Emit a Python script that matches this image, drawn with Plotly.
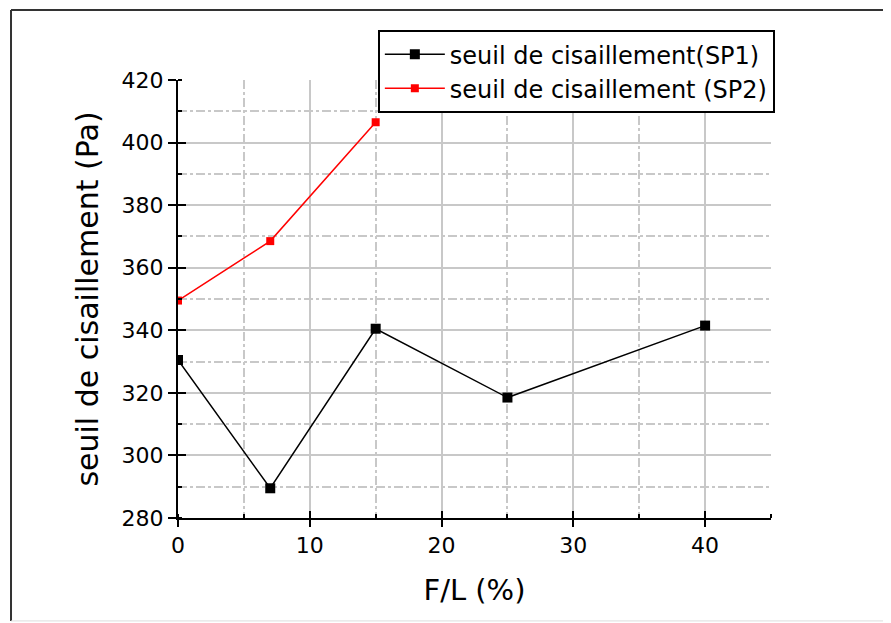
import plotly.graph_objects as go

# Data
sp1_x = [0, 7, 15, 25, 40]
sp1_y = [330.5, 289.5, 340.5, 318.5, 341.5]
sp2_x = [0, 7, 15]
sp2_y = [349.5, 368.5, 406.5]

x_ticks = [0, 10, 20, 30, 40]
y_ticks = [280, 300, 320, 340, 360, 380, 400, 420]

FONT = "DejaVu Sans, Arial, sans-serif"

fig = go.Figure()
fig.add_trace(go.Scatter(
    x=sp1_x, y=sp1_y, mode="lines+markers", name="seuil de cisaillement(SP1)",
    line=dict(color="black", width=1.5),
    marker=dict(symbol="square", size=10, color="black"),
))
fig.add_trace(go.Scatter(
    x=sp2_x, y=sp2_y, mode="lines+markers", name="seuil de cisaillement (SP2)",
    line=dict(color="red", width=1.5),
    marker=dict(symbol="square", size=8, color="red"),
))

common_grid = dict(showgrid=True, gridcolor="#c8c8c8", gridwidth=1.5, zeroline=False)

fig.update_layout(
    width=891, height=623,
    margin=dict(l=170, r=128, t=72, b=113),
    paper_bgcolor="white", plot_bgcolor="white",
    font=dict(family=FONT, color="black"),
    showlegend=True,
    legend=dict(
        x=0.337, y=1.114, xanchor="left", yanchor="top",
        bgcolor="white", bordercolor="black", borderwidth=2,
        font=dict(size=24, family=FONT), tracegroupgap=0,
        itemwidth=60,
    ),
    xaxis=dict(
        range=[0, 45], tickvals=x_ticks, ticks="outside", ticklen=7, tickwidth=2,
        tickcolor="black", showline=True, linecolor="black", linewidth=2,
        tickfont=dict(size=22, family=FONT),
        title=dict(text="F/L (%)", font=dict(size=29, family=FONT), standoff=22),
        minor=dict(dtick=5, tick0=0, ticks="inside", ticklen=4, tickcolor="black", tickwidth=2,
                   showgrid=True, gridcolor="#c8c8c8", griddash="dashdot", gridwidth=1.5),
        **common_grid,
    ),
    yaxis=dict(
        range=[280, 420], tickvals=y_ticks, ticks="outside", ticklen=8, tickwidth=2,
        tickcolor="black", showline=True, linecolor="black", linewidth=2,
        tickfont=dict(size=22, family=FONT),
        title=dict(text="seuil de cisaillement (Pa)", font=dict(size=30, family=FONT), standoff=14),
        minor=dict(dtick=10, tick0=280, ticks="inside", ticklen=4, tickcolor="black", tickwidth=2,
                   showgrid=True, gridcolor="#c8c8c8", griddash="dashdot", gridwidth=1.5),
        **common_grid,
    ),
    xaxis2=dict(range=[0, 45], tickvals=x_ticks, ticks="inside", ticklen=7, tickwidth=2,
                tickcolor="black", showticklabels=False, showgrid=False, zeroline=False,
                overlaying="x", side="bottom", anchor="y"),
    yaxis2=dict(range=[280, 420], tickvals=y_ticks, ticks="inside", ticklen=8, tickwidth=2,
                tickcolor="black", showticklabels=False, showgrid=False, zeroline=False,
                overlaying="y", side="left", anchor="x"),
)

# dummy invisible trace to activate overlay axes
fig.add_trace(go.Scatter(x=[None], y=[None], xaxis="x2", yaxis="y2", showlegend=False,
                         hoverinfo="skip"))

# outer frame (top and left dark, bottom light)
fx0, fx1, fy0, fy1 = -0.2816, 1.3, -0.235, 1.16
fig.add_shape(type="line", xref="paper", yref="paper", x0=fx0, x1=fx1, y0=fy1, y1=fy1,
              line=dict(color="#333333", width=2))
fig.add_shape(type="line", xref="paper", yref="paper", x0=fx0, x1=fx0, y0=fy1, y1=fy0,
              line=dict(color="#333333", width=2))
fig.add_shape(type="line", xref="paper", yref="paper", x0=fx0, x1=fx1, y0=fy0, y1=fy0,
              line=dict(color="#dddddd", width=1))

fig.write_html("out.html")
